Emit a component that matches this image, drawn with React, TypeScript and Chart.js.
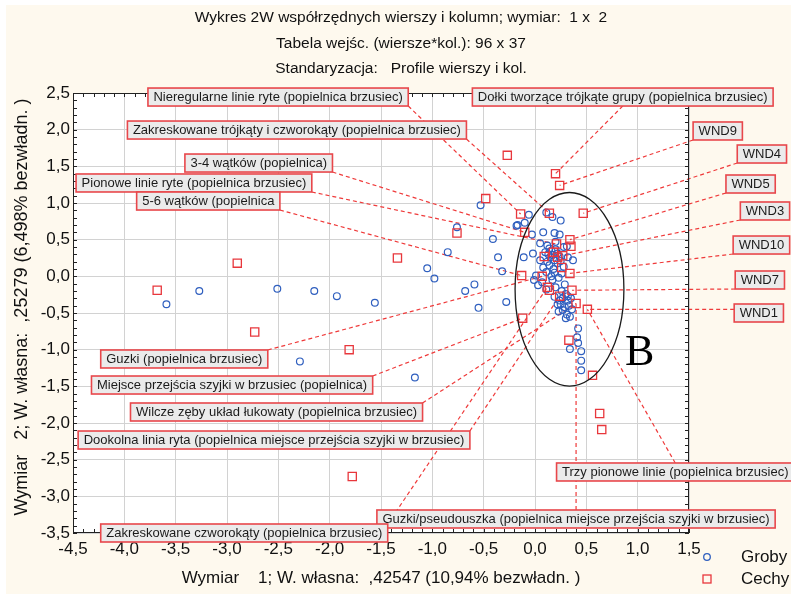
import React, { useEffect, useRef } from 'react';
import { Chart, registerables } from 'chart.js';

Chart.register(...registerables);

// ---------- DATA ----------
const titleLines = [
  'Wykres 2W współrzędnych wierszy i kolumn; wymiar:  1 x  2',
  'Tabela wejśc. (wiersze*kol.): 96 x 37',
  'Standaryzacja:   Profile wierszy i kol.',
];
const xAxisTitle = 'Wymiar    1; W. własna:  ,42547 (10,94% bezwładn. )';
const yAxisTitle = 'Wymiar   2; W. własna:  ,25279 (6,498% bezwładn. )';

const xTickValues = [-4.5, -4.0, -3.5, -3.0, -2.5, -2.0, -1.5, -1.0, -0.5, 0.0, 0.5, 1.0, 1.5];
const yTickValues = [-3.5, -3.0, -2.5, -2.0, -1.5, -1.0, -0.5, 0.0, 0.5, 1.0, 1.5, 2.0, 2.5];

const seriesNames = ['Groby', 'Cechy'];

// Groby (rows)
const grobyX = [
  -3.59, -3.27, -2.51, -2.15, -1.93, -1.56, -2.29, -1.17, -1.05, -0.98, -0.85, -0.76, -0.53, -0.41,
  -0.36, -0.32, -0.18, -0.59, -0.68, -0.55, -0.28,
  -0.06, -0.10, -0.17, -0.03, 0.08, 0.11, 0.17, 0.25, 0.19, 0.24, -0.11, 0.05, 0.16, 0.20, 0.17,
  0.19, 0.15, 0.28, 0.31, 0.32, 0.18, 0.28, 0.19, 0.26, 0.01, -0.01, 0.03, 0.17, 0.29, 0.30, 0.32,
  0.24, 0.22, 0.29, 0.27, 0.31, 0.32, 0.35, 0.42, 0.41, 0.42, 0.34, 0.45, 0.45, 0.45,
  0.12, 0.14, 0.10, 0.13, 0.22, 0.24, 0.12, 0.14, 0.22, 0.25, 0.08, 0.11, 0.16, 0.23, 0.07, 0.11,
  0.20, 0.26, 0.19, 0.27, 0.25, 0.33, 0.36, 0.23, 0.30, 0.34, 0.05, -0.02, 0.20, 0.37,
];
const grobyY = [
  -0.38, -0.20, -0.17, -0.20, -0.27, -0.36, -1.16, -1.38, 0.11, -0.03, 0.33, 0.67, 0.97, 0.51,
  0.26, 0.07, 0.69, -0.11, -0.20, -0.43, -0.35,
  0.84, 0.73, 0.70, 0.57, 0.60, 0.87, 0.81, 0.76, 0.59, 0.57, 0.26, 0.22, 0.35, 0.37, 0.29,
  0.22, 0.26, 0.40, 0.41, 0.26, 0.10, 0.13, 0.05, 0.04, 0.01, -0.05, -0.12, -0.05, -0.11, -0.24, -0.27,
  -0.33, -0.38, -0.42, -0.46, -0.52, -0.33, -0.30, -0.71, -0.83, -0.91, -0.99, -1.02, -1.15, -1.28,
  0.42, 0.38, 0.33, 0.30, 0.31, 0.27, 0.20, 0.15, 0.18, 0.21, 0.12, 0.06, 0.00, -0.02, -0.08, -0.18,
  -0.15, -0.20, -0.28, -0.30, -0.38, -0.40, -0.45, -0.48, -0.57, -0.55, 0.45, 0.31, 0.47, 0.22,
];

// Cechy (columns)
const cechyX = [
  -3.68, -2.90, -2.73, -1.81, -1.78, -1.34, -0.76, -0.48, -0.27, 0.20, 0.24, -0.14, 0.14, 0.47,
  -0.10, 0.21, 0.34, 0.35, 0.09, 0.22, 0.27, 0.26, 0.34, -0.13, 0.07, 0.12, 0.14, 0.24, 0.36,
  0.40, 0.51, -0.12, 0.33, 0.56, 0.63, 0.65, 0.18,
];
const cechyY = [
  -0.19, 0.18, -0.76, -1.00, -2.73, 0.25, 0.59, 1.06, 1.65, 1.40, 1.24, 0.85, 0.86, 0.86,
  0.60, 0.44, 0.50, 0.41, 0.27, 0.26, 0.28, 0.12, 0.04, 0.01, 0.00, -0.15, -0.19, -0.27, -0.19,
  -0.37, -0.45, -0.57, -0.87, -1.35, -1.87, -2.09, 0.33,
];

// Point labels (text, box left x, box centre y in data units, index of labelled Cechy point)
const labelTexts = [
  'Nieregularne linie ryte (popielnica brzusiec)',
  'Dołki tworzące trójkąte grupy (popielnica brzusiec)',
  'Zakreskowane trójkąty i czworokąty (popielnica brzusiec)',
  'WND9',
  '3-4 wątków (popielnica)',
  'WND4',
  'Pionowe linie ryte (popielnica brzusiec)',
  'WND5',
  '5-6 wątków (popielnica',
  'WND3',
  'WND10',
  'WND7',
  'WND1',
  'Guzki (popielnica brzusiec)',
  'Miejsce przejścia szyjki w brzusiec (popielnica)',
  'Wilcze zęby układ łukowaty (popielnica brzusiec)',
  'Dookolna linia ryta (popielnica miejsce przejścia szyjki w brzusiec)',
  'Trzy pionowe linie (popielnica brzusiec)',
  'Guzki/pseudouszka (popielnica miejsce przejścia szyjki w brzusiec)',
  'Zakreskowane czworokąty (popielnica brzusiec)',
];
const labelX = [-3.77, -0.61, -3.97, 1.54, -3.41, 1.97, -4.47, 1.86, -3.88, 2.0, 1.93, 1.95, 1.94,
  -4.23, -4.32, -3.94, -4.45, 0.21, -1.54, -4.23];
const labelY = [2.445, 2.445, 1.995, 1.982, 1.545, 1.668, 1.273, 1.259, 1.027, 0.891, 0.427, -0.05,
  -0.5, -1.127, -1.482, -1.85, -2.232, -2.668, -3.309, -3.5];
const labelTarget = [11, 9, 12, 10, 14, 13, 15, 16, 23, 20, 22, 28, 30, 24, 31, 29, 27, 30, 29, 25];
const labelFromMiddle = [false, true, false, false, false, false, false, false, false, false, false,
  false, false, false, false, false, false, true, false, false];

// Ellipse "B"
const ellipseCenter = { x: 0.336, y: -0.177 };
const ellipseRadius = { x: 0.53, y: 1.32 };
const ellipseText = 'B';
const ellipseTextPos = { x: 1.02, y: -1.05 };

// ---------- STYLE ----------
const SANS = '"Liberation Sans", Arial, sans-serif';
const BLUE = '#2f5fbf';
const RED = '#e8373c';
const fmt = (v: number) => (Math.abs(v) < 1e-9 ? 0 : v).toFixed(1).replace('.', ',');

const decorPlugin = {
  id: 'decor',
  beforeDraw(chart: any) {
    const { ctx, chartArea: a, width, height } = chart;
    ctx.save();
    ctx.fillStyle = '#ffffff';
    ctx.fillRect(0, 0, width, height);
    ctx.fillStyle = '#fef9ee';
    ctx.fillRect(6, 5, width - 6, height - 5);
    ctx.fillStyle = '#ffffff';
    ctx.fillRect(a.left, a.top, a.right - a.left, a.bottom - a.top);
    ctx.restore();
  },
  beforeDatasetsDraw(chart: any) {
    const { ctx } = chart;
    const xs = chart.scales.x;
    const ys = chart.scales.y;
    ctx.save();
    ctx.font = `13px ${SANS}`;
    ctx.strokeStyle = '#ef3a3a';
    ctx.lineWidth = 1.2;
    ctx.setLineDash([4, 3]);
    labelTexts.forEach((t, i) => {
      const tw = ctx.measureText(t).width;
      const left = xs.getPixelForValue(labelX[i]);
      const cy = ys.getPixelForValue(labelY[i]);
      const right = left + tw + 11;
      const top = cy - 9;
      const bottom = cy + 9;
      const k = labelTarget[i];
      const tx = xs.getPixelForValue(cechyX[k]);
      const ty = ys.getPixelForValue(cechyY[k]);
      let sx = Math.min(Math.max(tx, left), right);
      let sy = Math.min(Math.max(ty, top), bottom);
      if (labelFromMiddle[i]) {
        sx = (left + right) / 2;
        sy = ty < cy ? top : bottom;
      }
      ctx.beginPath();
      ctx.moveTo(sx, sy);
      ctx.lineTo(tx, ty);
      ctx.stroke();
    });
    ctx.restore();
  },
  afterDatasetsDraw(chart: any) {
    const { ctx, chartArea: a } = chart;
    const xs = chart.scales.x;
    const ys = chart.scales.y;
    ctx.save();

    // frame + minor ticks
    ctx.strokeStyle = '#222';
    ctx.lineWidth = 1;
    ctx.strokeRect(a.left + 0.5, a.top + 0.5, a.right - a.left - 1, a.bottom - a.top - 1);
    ctx.beginPath();
    for (let i = 0; i <= 60; i++) {
      const v = -4.5 + i * 0.1;
      const px = Math.round(xs.getPixelForValue(v)) + 0.5;
      const len = 4;
      ctx.moveTo(px, a.bottom);
      ctx.lineTo(px, a.bottom - len);
      ctx.moveTo(px, a.top);
      ctx.lineTo(px, a.top + len);
    }
    for (let i = 0; i <= 60; i++) {
      const v = -3.5 + i * 0.1;
      const py = Math.round(ys.getPixelForValue(v)) + 0.5;
      const len = 4;
      ctx.moveTo(a.left, py);
      ctx.lineTo(a.left + len, py);
      ctx.moveTo(a.right, py);
      ctx.lineTo(a.right - len, py);
    }
    ctx.stroke();

    // ellipse
    const ecx = xs.getPixelForValue(ellipseCenter.x);
    const ecy = ys.getPixelForValue(ellipseCenter.y);
    const erx = Math.abs(xs.getPixelForValue(ellipseCenter.x + ellipseRadius.x) - ecx);
    const ery = Math.abs(ys.getPixelForValue(ellipseCenter.y + ellipseRadius.y) - ecy);
    ctx.strokeStyle = '#1a1a1a';
    ctx.lineWidth = 1.3;
    ctx.beginPath();
    ctx.ellipse(ecx, ecy, erx, ery, 0, 0, Math.PI * 2);
    ctx.stroke();

    ctx.fillStyle = '#000';
    ctx.font = '44px "Liberation Serif", "Times New Roman", serif';
    ctx.textAlign = 'center';
    ctx.textBaseline = 'middle';
    ctx.fillText(ellipseText, xs.getPixelForValue(ellipseTextPos.x), ys.getPixelForValue(ellipseTextPos.y));

    // label boxes
    ctx.font = `13px ${SANS}`;
    ctx.textAlign = 'left';
    ctx.textBaseline = 'middle';
    labelTexts.forEach((t, i) => {
      const tw = ctx.measureText(t).width;
      const left = xs.getPixelForValue(labelX[i]);
      const cy = ys.getPixelForValue(labelY[i]);
      const w = tw + 11;
      ctx.fillStyle = '#ebebeb';
      ctx.fillRect(left, cy - 9, w, 18);
      ctx.strokeStyle = '#e8474b';
      ctx.lineWidth = 1.6;
      ctx.strokeRect(left, cy - 9, w, 18);
      ctx.fillStyle = '#1b1b1b';
      ctx.fillText(t, left + 5.5, cy + 0.5);
    });

    // title
    ctx.fillStyle = '#111';
    ctx.font = `15.5px ${SANS}`;
    ctx.textAlign = 'center';
    titleLines.forEach((t, i) => ctx.fillText(t, 401, 18 + i * 25.5));

    // axis titles
    ctx.font = `17px ${SANS}`;
    ctx.fillText(xAxisTitle, 381, 578);
    ctx.save();
    ctx.translate(22, 307);
    ctx.rotate(-Math.PI / 2);
    ctx.font = `18px ${SANS}`;
    ctx.fillText(yAxisTitle, 0, 0);
    ctx.restore();

    // legend
    ctx.lineWidth = 1.3;
    ctx.strokeStyle = BLUE;
    ctx.beginPath();
    ctx.arc(707, 557, 3.3, 0, Math.PI * 2);
    ctx.stroke();
    ctx.strokeStyle = RED;
    ctx.strokeRect(703, 575, 8, 8);
    ctx.fillStyle = '#111';
    ctx.textAlign = 'left';
    ctx.font = `17px ${SANS}`;
    ctx.fillText(seriesNames[0], 741, 557);
    ctx.fillText(seriesNames[1], 741, 579);

    ctx.restore();
  },
};

export default function App() {
  const ref = useRef<HTMLCanvasElement | null>(null);
  useEffect(() => {
    if (!ref.current) return;
    const chart = new Chart(ref.current, {
      type: 'scatter',
      data: {
        datasets: [
          {
            label: seriesNames[1],
            data: cechyX.map((x, i) => ({ x, y: cechyY[i] })),
            pointStyle: 'rect',
            pointRadius: 5.8,
            borderColor: RED,
            backgroundColor: 'rgba(0,0,0,0)',
            borderWidth: 1.3,
          },
          {
            label: seriesNames[0],
            data: grobyX.map((x, i) => ({ x, y: grobyY[i] })),
            pointStyle: 'circle',
            pointRadius: 3.4,
            borderColor: BLUE,
            backgroundColor: 'rgba(0,0,0,0)',
            borderWidth: 1.2,
          },
        ],
      },
      options: {
        responsive: false,
        animation: false,
        events: [],
        layout: { padding: { top: 93, right: 102, left: 0, bottom: 0 } },
        plugins: { legend: { display: false }, tooltip: { enabled: false }, title: { display: false } },
        scales: {
          x: {
            type: 'linear',
            min: -4.5,
            max: 1.5,
            afterBuildTicks: (s: any) => { s.ticks = xTickValues.map((v) => ({ value: v })); },
            afterFit: (s: any) => { s.height = 61; },
            ticks: {
              autoSkip: false,
              maxRotation: 0,
              padding: 6,
              color: '#111',
              font: { family: SANS, size: 17 },
              callback: (v: any) => fmt(Number(v)),
            },
            grid: { color: '#d2d2d2', lineWidth: 1, drawTicks: false },
            border: { display: false },
          },
          y: {
            type: 'linear',
            min: -3.5,
            max: 2.5,
            afterBuildTicks: (s: any) => { s.ticks = yTickValues.map((v) => ({ value: v })); },
            afterFit: (s: any) => { s.width = 73; },
            ticks: {
              autoSkip: false,
              padding: 3,
              color: '#111',
              font: { family: SANS, size: 17 },
              callback: (v: any) => fmt(Number(v)),
            },
            grid: { color: '#d2d2d2', lineWidth: 1, drawTicks: false },
            border: { display: false },
          },
        },
      },
      plugins: [decorPlugin],
    } as any);
    return () => chart.destroy();
  }, []);
  return (
    <div style={{ position: 'fixed', left: 0, top: 0, width: 791, height: 594, background: '#fff' }}>
      <canvas ref={ref} width={791} height={594} style={{ display: 'block', width: 791, height: 594 }} />
    </div>
  );
}
